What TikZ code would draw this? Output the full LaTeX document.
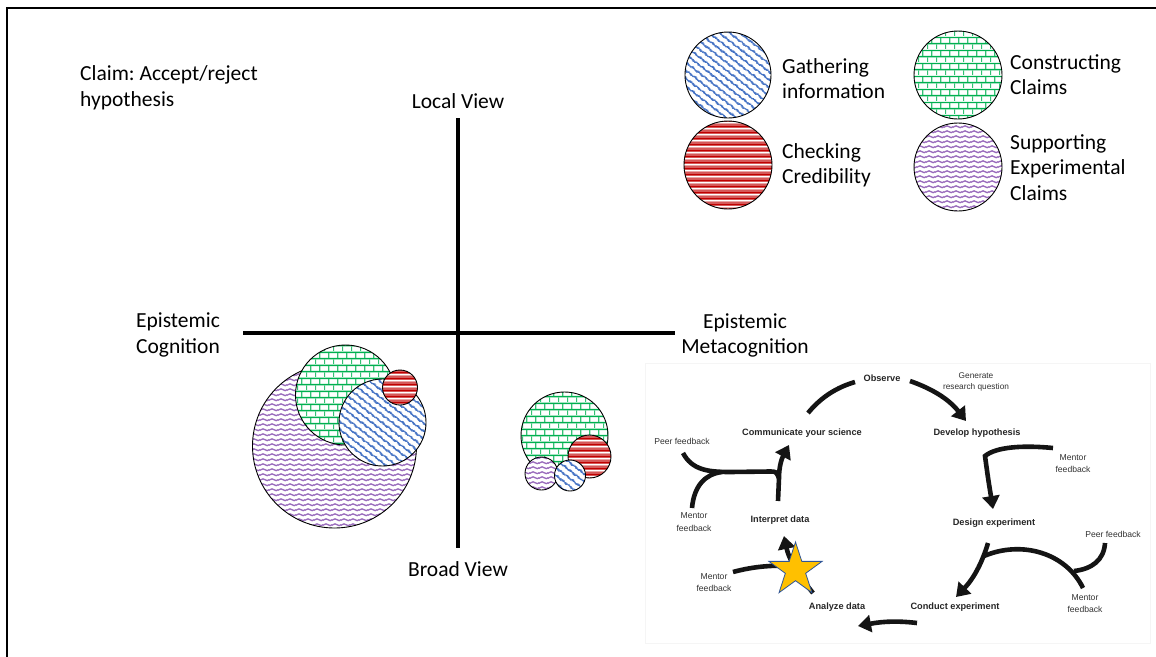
\documentclass[tikz,border=0pt]{standalone}
\usepackage{fontspec}
\setmainfont{Carlito}
\newfontfamily\cycfont{Liberation Sans}
\usetikzlibrary{patterns.meta,arrows.meta,shapes.geometric}
\frenchspacing

\definecolor{gblue}{HTML}{4472C4}
\definecolor{gred}{HTML}{C00000}
\definecolor{ggreen}{HTML}{00B050}
\definecolor{gpurple}{HTML}{7030A0}
\definecolor{stargold}{HTML}{FFC000}
\definecolor{starrim}{HTML}{2F5597}

% wavy diagonal stripes (gathering information)
\tikzdeclarepattern{
  name=wavediag,
  type=colored,
  bottom left={(0pt,0pt)},
  top right={(8pt,6.8pt)},
  tile size={(8pt,6.8pt)},
  tile transformation={rotate=-38},
  code={
    \draw[gblue, line width=2.0pt]
      (-0.5pt,3.4pt) -- (0pt,3.4pt) sin (2pt,3.9pt) cos (4pt,3.4pt)
      sin (6pt,2.9pt) cos (8pt,3.4pt) -- (8.5pt,3.4pt);
  }
}
% horizontal stripes (checking credibility)
\tikzdeclarepattern{
  name=redlines,
  type=colored,
  bottom left={(0pt,0pt)},
  top right={(6pt,6pt)},
  tile size={(6pt,6pt)},
  code={
    \fill[gred] (0pt,0.4pt) rectangle (6pt,2.9pt);
    \fill[gred] (0pt,3.9pt) rectangle (6pt,5.0pt);
  }
}
% brick pattern (constructing claims)
\tikzdeclarepattern{
  name=bricks,
  type=colored,
  bottom left={(0pt,0pt)},
  top right={(9pt,12.6pt)},
  tile size={(9pt,12.6pt)},
  code={
    \fill[ggreen] (0pt,4.8pt) rectangle (9pt,6.3pt);
    \fill[ggreen] (0pt,11.1pt) rectangle (9pt,12.6pt);
    \fill[ggreen!80] (0pt,0pt) rectangle (1.3pt,4.8pt);
    \fill[ggreen!80] (4.5pt,6.3pt) rectangle (5.8pt,11.1pt);
  }
}
% fine wavy lines (supporting experimental claims)
\tikzdeclarepattern{
  name=purplewave,
  type=colored,
  bottom left={(0pt,0pt)},
  top right={(9pt,5.2pt)},
  tile size={(9pt,5.2pt)},
  code={
    \draw[gpurple!72, line width=1.5pt]
      (-0.5pt,2.6pt) -- (0pt,2.6pt) sin (2.25pt,3.6pt) cos (4.5pt,2.6pt)
      sin (6.75pt,1.6pt) cos (9pt,2.6pt) -- (9.5pt,2.6pt);
  }
}

\begin{document}
\begin{tikzpicture}[x=1pt,y=-1pt,
  lbl/.style={inner sep=0pt, font=\fontsize{21.5}{25.5}\selectfont, align=left},
  blob/.style={circle, draw=black, line width=0.9pt, inner sep=0pt,
               minimum size=#1, preaction={fill=white}},
  axisline/.style={line width=4pt},
  stage/.style={inner sep=0pt, font=\cycfont\bfseries\fontsize{9.2}{11}\selectfont, text=black!85},
  note/.style={inner sep=0pt, font=\cycfont\fontsize{8.6}{11.5}\selectfont, text=black!80, align=center},
  flow/.style={line width=4.6pt, draw=black!92},
  flowarr/.style={flow, -{Triangle[width=17pt,length=13pt]}},
]
\useasboundingbox (0,0) rectangle (1156,656);
\fill[white] (0,0) rectangle (1156,656);

% outer frame (runs off the right and bottom edges)
\coordinate (frameTR) at (1175,8);
\coordinate (frameTL) at (7,8);
\coordinate (frameBL) at (7,675);
\draw[line width=2pt] (frameTR) -- (frameTL) -- (frameBL);

% heading
\node[lbl, anchor=west] (claim) at (80,88) {Claim: Accept/reject\\hypothesis};

% axes
\coordinate (ytop) at (458,118);
\coordinate (ybot) at (458,548);
\coordinate (xleft) at (243,333);
\coordinate (xright) at (675,333);
\draw[axisline] (ytop) -- (ybot);
\draw[axisline] (xleft) -- (xright);

\node[lbl, align=center] (local) at (458,101) {Local View};
\node[lbl, align=center] (broad) at (458,569) {Broad View};
\node[lbl, align=center] (cog) at (178,335) {Epistemic\\Cognition};
\node[lbl, align=center] (meta) at (745,335.5) {Epistemic\\Metacognition};

% legend
\node[blob=86pt, pattern=wavediag] (legGI) at (728,75) {};
\node[blob=88pt, pattern=redlines] (legCC) at (728,165) {};
\node[blob=88pt, pattern=bricks] (legCon) at (958,75) {};
\node[blob=88pt, pattern=purplewave] (legSup) at (958,167) {};
\node[lbl, anchor=west] (txtGI) at (782,78.5) {Gathering\\information};
\node[lbl, anchor=west] (txtCC) at (782,165.5) {Checking\\Credibility};
\node[lbl, anchor=west] (txtCon) at (1010,74.5) {Constructing\\Claims};
\node[lbl, anchor=west] (txtSup) at (1010,167.5) {Supporting\\Experimental\\Claims};

% left cluster
\node[blob=164pt, pattern=purplewave] (lSup) at (334.5,446) {};
\node[blob=100pt, pattern=bricks] (lCon) at (345.5,395) {};
\node[blob=87pt, pattern=wavediag] (lGI) at (382.5,422.5) {};
\node[blob=35pt, pattern=redlines] (lCC) at (400,387.5) {};

% right cluster
\node[blob=87pt, pattern=bricks] (rCon) at (564.5,435.5) {};
\node[blob=43pt, pattern=redlines] (rCC) at (589.5,456.5) {};
\node[blob=33pt, pattern=purplewave] (rSup) at (541.5,473.5) {};
\node[blob=31pt, pattern=wavediag] (rGI) at (570,475.5) {};

% research cycle panel
\coordinate (panelTL) at (645,363);
\coordinate (panelBR) at (1150,643);
\draw[black!4, fill=white] (panelTL) rectangle (panelBR);

\node[stage] (observe) at (882,378) {Observe};
\node[stage] (communicate) at (802,433) {Communicate your science};
\node[stage] (develop) at (977,433) {Develop hypothesis};
\node[stage] (interpret) at (780,520) {Interpret data};
\node[stage] (design) at (994,523) {Design experiment};
\node[stage] (analyze) at (837,607) {Analyze data};
\node[stage] (conduct) at (955,607) {Conduct experiment};

\node[note, font=\cycfont\fontsize{8.3}{11}\selectfont] (generate) at (976,381.5) {Generate\\research question};
\node[note] (peerL) at (682,441) {Peer feedback};
\node[note, font=\cycfont\fontsize{8.6}{13.5}\selectfont] (mentorL) at (694,522) {Mentor\\feedback};
\node[note] (mentorR) at (1073,463.5) {Mentor\\feedback};
\node[note] (peerR) at (1113,534) {Peer feedback};
\node[note] (mentorLB) at (714,582.5) {Mentor\\feedback};
\node[note, font=\cycfont\fontsize{8.6}{12}\selectfont] (mentorRB) at (1085,604) {Mentor\\feedback};

% cycle strokes
\coordinate (aCommS) at (808,413);
\coordinate (aCommE) at (855,382);
\draw[flow] (aCommS) .. controls (822,396) and (838,387) .. (aCommE);

\coordinate (aObsS) at (910,381);
\coordinate (aObsE) at (966,421);
\draw[flowarr] (aObsS) .. controls (930,388) and (948,398) .. (aObsE);

\coordinate (aHypS) at (1053,448);
\coordinate (aHypK) at (985,456);
\coordinate (aHypE) at (993,509);
\draw[flowarr, line join=miter] (aHypS) .. controls (1022,445) and (996,447) .. (aHypK)
  .. controls (988,478) .. (aHypE);

\coordinate (aDesS) at (988,543);
\coordinate (aDesE) at (956,597);
\draw[flowarr] (aDesS) .. controls (983,560) and (975,577) .. (aDesE);

\coordinate (aMentRB) at (1083,588);
\coordinate (aMentRBj) at (984,556);
\draw[flow] (aMentRB) .. controls (1066,553) and (1022,540) .. (aMentRBj);

\coordinate (aPeerR) at (1105,543);
\coordinate (aPeerRj) at (1074,571);
\draw[flow] (aPeerR) .. controls (1104,560) and (1092,569) .. (aPeerRj);

\coordinate (aConS) at (917,623);
\coordinate (aConE) at (858,626);
\draw[flowarr] (aConS) .. controls (900,621) and (885,621) .. (aConE);

\coordinate (aAnaS) at (813,593);
\coordinate (aAnaE) at (784,536);
\draw[flowarr] (aAnaS) .. controls (800,577) and (789,560) .. (aAnaE);

\coordinate (aMentLB) at (733,572);
\coordinate (aMentLBj) at (795,566);
\draw[flow] (aMentLB) .. controls (755,566) and (775,565) .. (aMentLBj);

\coordinate (aIntS) at (778,501);
\coordinate (aIntK) at (779,478);
\coordinate (aIntE) at (789,445);
\draw[flowarr] (aIntS) -- (aIntK) .. controls (779,466) and (782,458) .. (aIntE);

\coordinate (aPeerL) at (683,453);
\draw[flow] (aPeerL) .. controls (692,470) and (708,472) .. (730,472) -- (770,471.5)
  .. controls (776,471.5) .. (aIntK);

\coordinate (aMentL) at (692,508);
\coordinate (aMentLj) at (722,472);
\draw[flow] (aMentL) .. controls (694,486) and (705,474) .. (aMentLj);

% marker on the current stage
\node[star, star points=5, star point ratio=2.618, minimum size=56pt, inner sep=0pt,
      fill=stargold, draw=starrim, line width=0.8pt] (marker) at (795.5,570) {};
\end{tikzpicture}
\end{document}
